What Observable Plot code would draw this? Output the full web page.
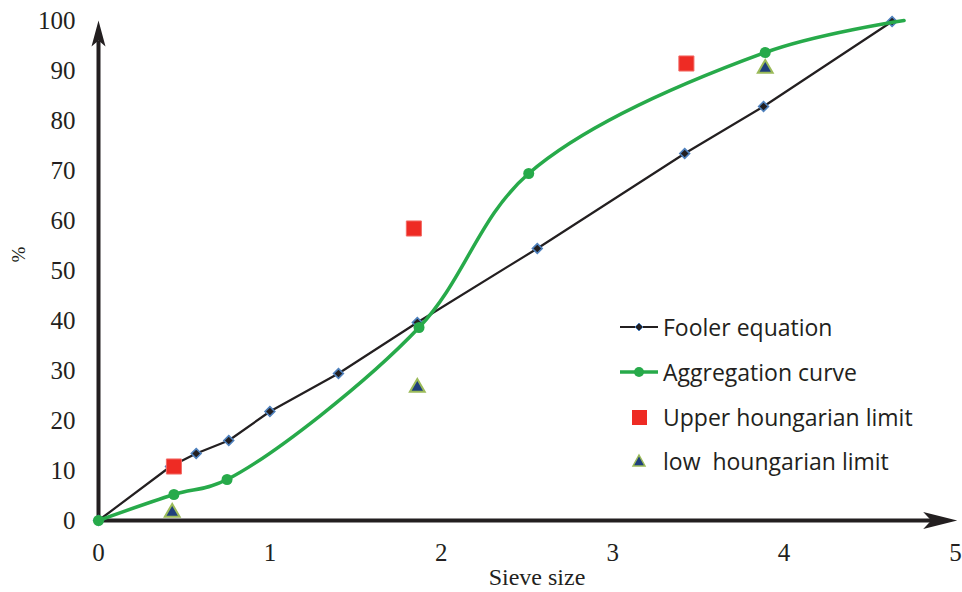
<!DOCTYPE html>
<html>
<head>
<meta charset="utf-8">
<script src="https://cdn.jsdelivr.net/npm/d3@7"></script>
<script src="https://cdn.jsdelivr.net/npm/@observablehq/plot@0.6"></script>
<style>
  html, body { margin: 0; padding: 0; background: #fff; }
  #wrap { position: relative; width: 962px; height: 592px; }
  #legend { position: absolute; left: 618px; top: 305px; font-family: "Open Sans", sans-serif; font-size: 23px; color: #231f20; }
  .row { display: flex; align-items: center; height: 44.7px; }
  .row svg { width: 44px; height: 28px; margin-right: 1px; }
</style>
</head>
<body>
<div id="wrap"><div id="legend"></div></div>
<script>
// ---- data ----
const sieveFooler = [0, 0.42, 0.57, 0.76, 1.0, 1.4, 1.86, 2.56, 3.42, 3.88, 4.63];
const pctFooler   = [0, 10.8, 13.4, 16.0, 21.8, 29.4, 39.6, 54.4, 73.4, 82.8, 99.8];
const sieveAgg = [0, 0.44, 0.75, 1.87, 2.51, 3.89, 4.7];
const pctAgg   = [0, 5.2, 8.2, 38.6, 69.4, 93.6, 100];
const aggMarked = [true, true, true, true, true, true, false];
const sieveUpper = [0.44, 1.84, 3.43];
const pctUpper   = [10.8, 58.4, 91.4];
const sieveLow = [0.43, 1.86, 3.89];
const pctLow   = [1.6, 26.6, 90.4];
const xTicks = [0, 1, 2, 3, 4, 5];
const yTicks = [0, 10, 20, 30, 40, 50, 60, 70, 80, 90, 100];
const xAxisEnd = 5.01;
const yAxisEnd = 100;
const legendLabels = ["Fooler equation", "Aggregation curve", "Upper houngarian limit", "low  houngarian limit"];

// ---- colours ----
const cBlack = "#231f20";
const cGreen = "#27aa4a";
const cRed = "#ee2b24";
const cNavy = "#1f3f7d";
const cLime = "#9bbb59";
const cBlue = "#4f81bd";

const fooler = sieveFooler.map((x, i) => ({x, y: pctFooler[i]}));
const agg = sieveAgg.map((x, i) => ({x, y: pctAgg[i], m: aggMarked[i]}));
const upper = sieveUpper.map((x, i) => ({x, y: pctUpper[i]}));
const low = sieveLow.map((x, i) => ({x, y: pctLow[i]}));

function head(L, W, notch) {
  return { draw(ctx) { ctx.moveTo(0, 0); ctx.lineTo(-W / 2, L); ctx.lineTo(0, L - notch); ctx.lineTo(W / 2, L); ctx.closePath(); } };
}

const chart = Plot.plot({
  width: 962, height: 592,
  marginLeft: 98, marginRight: 7, marginTop: 20, marginBottom: 72,
  x: {domain: [0, 5]},
  y: {domain: [0, 100]},
  style: {fontFamily: "'Liberation Serif', serif", fontSize: "24px", color: cBlack, background: "#fff", overflow: "visible"},
  marks: [
    Plot.axisY(yTicks, {tickSize: 0, tickPadding: 23, label: null, fontSize: 25, tickFormat: d => String(d)}),
    Plot.axisX(xTicks, {tickSize: 0, tickPadding: 23, label: null, fontSize: 25, tickFormat: d => String(d)}),
    Plot.link([{x1: 0, y1: 0, x2: xAxisEnd, y2: 0}], {x1: "x1", y1: "y1", x2: d => d.x2 - 0.12, y2: "y2", stroke: cBlack, strokeWidth: 4}),
    Plot.link([{x1: 0, y1: 0, x2: 0, y2: yAxisEnd}], {x1: "x1", y1: "y1", x2: "x2", y2: d => d.y2 - 4, stroke: cBlack, strokeWidth: 4}),
    Plot.dot([{x: xAxisEnd, y: 0}], {x: "x", y: "y", symbol: head(34, 17, 8), rotate: 90, fill: cBlack, stroke: "none"}),
    Plot.dot([{x: 0, y: yAxisEnd}], {x: "x", y: "y", symbol: head(26, 14, 6), fill: cBlack, stroke: "none"}),
    Plot.text(["Sieve size"], {frameAnchor: "bottom", dx: 10, dy: 64, fontSize: 24, fill: cBlack}),
    Plot.text(["%"], {frameAnchor: "left", dx: -80, dy: -8, rotate: -90, fontSize: 19, fill: cBlack}),
    // Fooler equation
    Plot.line(fooler, {x: "x", y: "y", stroke: cBlack, strokeWidth: 2.2}),
    Plot.dot(fooler, {x: "x", y: "y", symbol: "diamond2", r: 4.4, fill: cBlack, stroke: cBlue, strokeWidth: 1.6}),
    // Aggregation curve
    Plot.line(agg, {x: "x", y: "y", stroke: cGreen, strokeWidth: 3.5, curve: "catmull-rom"}),
    Plot.dot(agg.filter(d => d.m), {x: "x", y: "y", r: 5.5, fill: cGreen, stroke: "none"}),
    // Upper limit
    Plot.dot(upper, {x: "x", y: "y", symbol: "square", r: 8.5, fill: cRed, stroke: "#f26b66", strokeWidth: 1}),
    // Low limit
    Plot.dot(low, {x: "x", y: "y", symbol: "triangle", r: 5.5, fill: cNavy, stroke: cLime, strokeWidth: 2})
  ]
});
document.getElementById("wrap").prepend(chart);

// legend
const legendSwatches = [
  `<line x1="2" y1="14" x2="40" y2="14" stroke="${cBlack}" stroke-width="2"/><path d="M21 10 L25 14 L21 18 L17 14 Z" fill="${cBlack}" stroke="${cBlue}" stroke-width="1"/>`,
  `<line x1="2" y1="14" x2="40" y2="14" stroke="${cGreen}" stroke-width="3.5"/><circle cx="21" cy="14" r="5" fill="${cGreen}"/>`,
  `<rect x="14" y="7" width="15" height="15" fill="${cRed}"/>`,
  `<path d="M21 8 L27 19 L15 19 Z" fill="${cNavy}" stroke="${cLime}" stroke-width="1.5"/>`
];
const leg = document.getElementById("legend");
legendLabels.forEach((t, i) => {
  const r = document.createElement("div");
  r.className = "row";
  r.innerHTML = `<svg viewBox="0 0 44 28">${legendSwatches[i]}</svg><span>${t.replace(/  /g, " &nbsp;")}</span>`;
  leg.appendChild(r);
});
</script>
</body>
</html>
